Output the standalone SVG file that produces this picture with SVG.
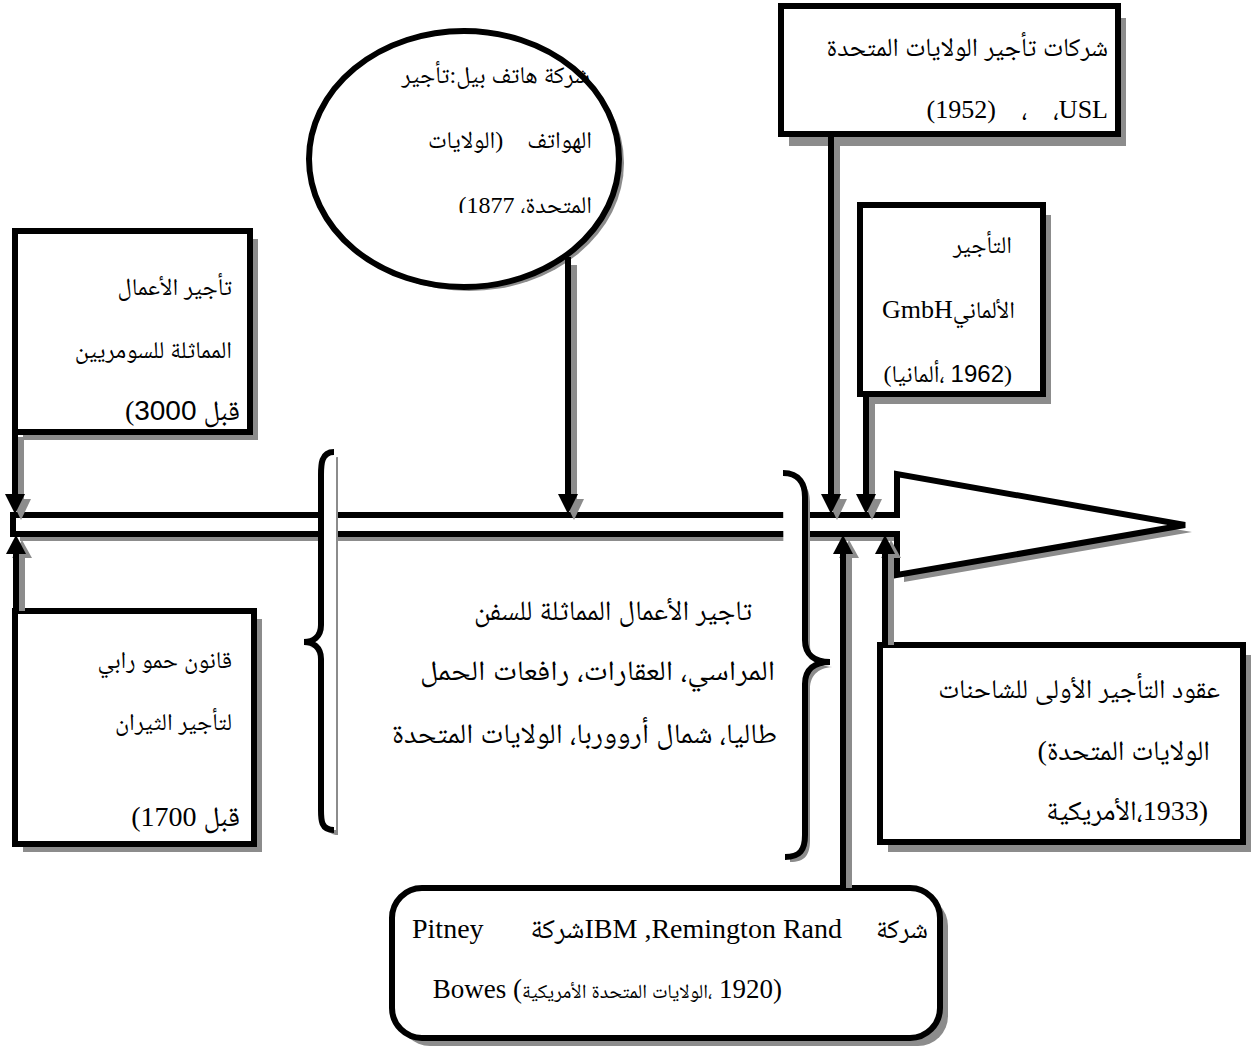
<svg xmlns="http://www.w3.org/2000/svg" width="1252" height="1054" viewBox="0 0 1252 1054">
<defs>
<style>
.sh{fill:#8c8c8c}
.bx{fill:#fff;stroke:#000;stroke-width:6}
.t{font-family:'Liberation Serif','Noto Naskh Arabic','DejaVu Sans',serif;font-size:24px;fill:#000;text-anchor:end;white-space:pre}
.st{text-anchor:start}
.sans{font-family:'Liberation Sans','DejaVu Sans',sans-serif}
.f26{font-size:26px}
.f27{font-size:27px}
.f28{font-size:28px}
.f20{font-size:20px}
.ln{stroke:#000;stroke-width:6;fill:none}
.hd{fill:#000}
</style>
<clipPath id="ec"><rect x="300" y="20" width="330" height="193"/></clipPath>
</defs>
<rect width="1252" height="1054" fill="#fff"/>

<g id="timeline">
<polygon class="sh" points="20,522 904,522 904,481 1192,532 904,582 904,541 20,541"/>
<polygon class="bx" points="13,515 897,515 897,474 1185,525 897,575 897,534 13,534"/>
</g>

<g id="brace-left">
<path class="sh" d="M338,457 C326,457 326,470 326,480 L326,630 C326,642 318,647 309,647 C318,647 326,652 326,664 L326,815 C326,825 326,835 338,835 Z"/>
<path fill="#fff" d="M336,452 C321,452 321,465 321,475 L321,625 C321,637 313,642 304,642 C313,642 321,647 321,659 L321,810 C321,820 321,830 336,830 Z"/>
<path class="ln" d="M334,452 C321,452 321,465 321,475 L321,625 C321,637 313,642 304,642 C313,642 321,647 321,659 L321,810 C321,820 321,830 334,830"/>
</g>

<g id="brace-right">
<path class="sh" d="M788,478 C805,478 810,490 810,502 L810,645 C810,660 820,667 835,667 C820,667 810,674 810,689 L810,840 C810,855 805,862 790,862 Z"/>
<path fill="#fff" d="M783,473 C800,473 805,485 805,497 L805,640 C805,655 815,662 830,662 C815,662 805,669 805,684 L805,835 C805,850 800,857 785,857 Z"/>
<path class="ln" d="M783,473 C800,473 805,485 805,497 L805,640 C805,655 815,662 830,662 C815,662 805,669 805,684 L805,835 C805,850 800,857 785,857"/>
</g>

<g id="node-ellipse">
<ellipse class="sh" cx="469" cy="163" rx="155" ry="128"/>
<ellipse class="bx" cx="464" cy="159" rx="155" ry="128"/>
<g clip-path="url(#ec)">
<text class="t" x="590" y="83">شركة هاتف بيل:تأجير</text>
<text class="t" x="592" y="148">الهواتف    (الولايات</text>
<text class="t" x="592" y="213">&#x200E;(1877 ،المتحدة</text>
</g>
</g>

<g id="node-usl">
<rect class="sh" x="789" y="18" width="337" height="128"/>
<rect class="bx" x="781" y="6" width="337" height="128"/>
<text class="t f26" x="1108" y="56">شركات تأجير الولايات المتحدة</text>
<text class="t f26" x="1108" y="118">(1952)    ،    ،USL</text>
</g>

<g id="node-gmbh">
<rect class="sh" x="868" y="215" width="183" height="189"/>
<rect class="bx" x="860" y="205" width="183" height="189"/>
<text class="t" x="1012" y="253">التأجير</text>
<text class="t" x="1015" y="318"><tspan class="f26">GmbH</tspan>الألماني</text>
<text class="t" x="1012" y="382">&#x200E;(ألمانيا،&#x200E; <tspan class="sans">1962</tspan>)</text>
</g>

<g id="node-sumer">
<rect class="sh" x="23" y="239" width="235" height="201"/>
<rect class="bx" x="15" y="231" width="235" height="201"/>
<text class="t" x="232" y="295">تأجير الأعمال</text>
<text class="t" x="232" y="358">المماثلة للسومريين</text>
<text class="t f28" x="240" y="420">&#x200E;(<tspan class="sans">3000</tspan> قبل</text>
</g>

<g id="node-hammurabi">
<rect class="sh" x="23" y="619" width="239" height="233"/>
<rect class="bx" x="15" y="611" width="239" height="233"/>
<text class="t" x="232" y="668">قانون حمو رابي</text>
<text class="t" x="232" y="730">لتأجير الثيران</text>
<text class="t f28" x="240" y="826">&#x200E;(1700 قبل</text>
</g>

<g id="node-trucks">
<rect class="sh" x="888" y="655" width="363" height="197"/>
<rect class="bx" x="880" y="645" width="363" height="197"/>
<text class="t f27" x="1220" y="698">عقود التأجير الأولى للشاحنات</text>
<text class="t f28" x="1210" y="760">&#x200E;(الولايات المتحدة</text>
<text class="t f28" x="1208" y="820">&#x200E;الأمريكية،&#x200E;1933)</text>
</g>

<g id="node-ibm">
<rect class="sh" x="400" y="896" width="548" height="150" rx="30"/>
<rect class="bx" x="392" y="888" width="548" height="150" rx="30"/>
<text class="t f28 st" x="412" y="938">Pitney</text>
<text class="t f28" x="842" y="938">شركةIBM ,Remington Rand</text>
<text class="t f27" x="928" y="938">شركة</text>
<text class="t f27" x="782" y="998">Bowes (<tspan class="f20">الولايات المتحدة الأمريكية،</tspan>&#x200E; 1920)</text>
</g>

<g id="label-center">
<text class="t f28" x="752" y="620">تاجير الأعمال المماثلة للسفن</text>
<text class="t f28" x="775" y="680" textLength="355" lengthAdjust="spacingAndGlyphs">المراسي، العقارات، رافعات الحمل</text>
<text class="t f28" x="777" y="743" textLength="385" lengthAdjust="spacingAndGlyphs">طاليا، شمال أرووربا، الولايات المتحدة</text>
</g>

<g id="connectors">
<g class="sh">
<rect x="18" y="437" width="6" height="64"/><polygon points="11,499 31,499 21,520"/>
<rect x="19" y="556" width="6" height="55"/><polygon points="12,558 32,558 22,540"/>
<rect x="571" y="265" width="6" height="236"/><polygon points="564,499 584,499 574,520"/>
<rect x="834" y="142" width="6" height="359"/><polygon points="827,499 847,499 837,520"/>
<rect x="869" y="399" width="6" height="102"/><polygon points="862,499 882,499 872,520"/>
<rect x="846" y="556" width="6" height="332"/><polygon points="839,558 859,558 849,540"/>
<rect x="888" y="556" width="6" height="89"/><polygon points="881,558 901,558 891,540"/>
</g>
<path class="ln" d="M15,432 V497 M16,611 V552 M568,257 V497 M831,137 V497 M866,397 V497 M843,888 V552 M885,645 V552"/>
<g class="hd">
<polygon points="5,494 25,494 15,514"/>
<polygon points="6,554 26,554 16,535"/>
<polygon points="558,494 578,494 568,514"/>
<polygon points="821,494 841,494 831,514"/>
<polygon points="856,494 876,494 866,514"/>
<polygon points="833,554 853,554 843,535"/>
<polygon points="875,554 895,554 885,535"/>
</g>
</g>
</svg>
